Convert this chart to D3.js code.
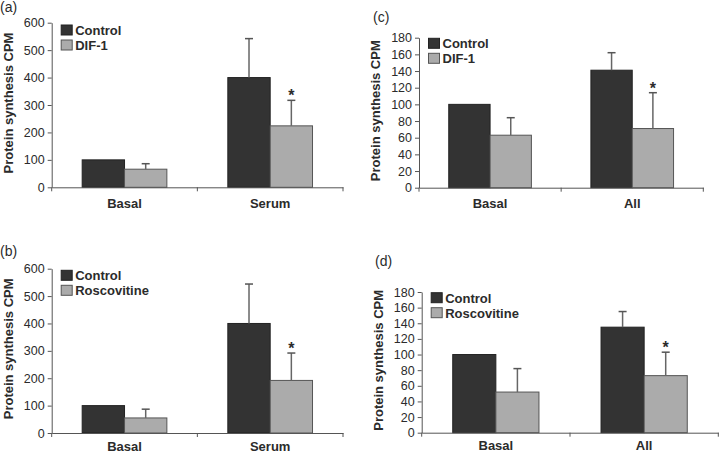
<!DOCTYPE html>
<html>
<head>
<meta charset="utf-8">
<script src="https://cdn.jsdelivr.net/npm/d3@7"></script>
<style>
  body { margin: 0; background: #fff; }
  svg text { font-family: Arial, "Liberation Sans", sans-serif; fill: #2b2b2b; }
  .tick text { font-size: 12.5px; }
  .xax .tick text { font-size: 13px; font-weight: bold; }
</style>
</head>
<body>
<div id="chart"></div>
<script>
// data
var groupsSerum = ["Basal", "Serum"];
var groupsAll = ["Basal", "All"];

var aControl = [100, 400], aControlErr = [0, 142];
var aDif = [66, 224], aDifErr = [20, 93];

var bControl = [100, 400], bControlErr = [0, 144];
var bRosc = [55, 192], bRoscErr = [32, 100];

var cControl = [100, 141], cControlErr = [0, 21];
var cDif = [63, 71], cDifErr = [21, 43];

var dControl = [100, 135], dControlErr = [0, 20];
var dRosc = [52, 73], dRoscErr = [30, 30];

var ticksBig = [0, 100, 200, 300, 400, 500, 600];
var ticksSmall = [0, 20, 40, 60, 80, 100, 120, 140, 160, 180];

var W = 720, H = 454;
var svg = d3.select("#chart").append("svg").attr("width", W).attr("height", H);

// build a panel
function panel(p) {
  var x0 = d3.scaleBand().domain(p.groups).range([p.left, p.right]).paddingInner(0).paddingOuter(0);
  var x1 = d3.scaleBand().domain([0, 1]).range([0, x0.bandwidth()]).paddingInner(0).paddingOuter(0.72);
  var y = d3.scaleLinear().domain([0, d3.max(p.ticks)]).range([p.bottom, p.top]);

  var g = svg.append("g");

  // panel letter
  svg.append("text").attr("x", p.lx).attr("y", p.ly)
    .style("font-size", "14px").text(p.letter);

  var series = [
    {name: "Control", vals: p.s0, err: p.e0, fill: "#333333", stroke: "#222"},
    {name: p.name1, vals: p.s1, err: p.e1, fill: "#ababab", stroke: "#555"}
  ];

  series.forEach(function(s, si) {
    var rows = p.groups.map(function(gname, i) { return {g: gname, v: s.vals[i], e: s.err[i]}; });
    g.selectAll(null).data(rows).enter().append("rect")
      .attr("x", function(d) { return x0(d.g) + x1(si); })
      .attr("y", function(d) { return y(d.v); })
      .attr("width", x1.bandwidth())
      .attr("height", function(d) { return y(0) - y(d.v); })
      .attr("fill", s.fill)
      .attr("stroke", s.stroke)
      .attr("stroke-width", 1);

    // error bars (upper only)
    var eb = rows.filter(function(d) { return d.e > 0; });
    var cx = function(d) { return x0(d.g) + x1(si) + x1.bandwidth() / 2; };
    g.selectAll(null).data(eb).enter().append("line")
      .attr("x1", cx).attr("x2", cx)
      .attr("y1", function(d) { return y(d.v); })
      .attr("y2", function(d) { return y(d.v + d.e); })
      .attr("stroke", "#666").attr("stroke-width", 1.5);
    g.selectAll(null).data(eb).enter().append("line")
      .attr("x1", function(d) { return cx(d) - 4; })
      .attr("x2", function(d) { return cx(d) + 4; })
      .attr("y1", function(d) { return y(d.v + d.e); })
      .attr("y2", function(d) { return y(d.v + d.e); })
      .attr("stroke", "#555").attr("stroke-width", 1.5);

    // significance star on treated, second group
    if (si === 1) {
      var d = rows[1];
      g.append("text")
        .attr("x", cx(d)).attr("y", y(d.v + d.e) + 1)
        .attr("text-anchor", "middle")
        .style("font-size", "16px").style("font-weight", "bold")
        .text("*");
    }
  });

  // y axis
  var yAxis = d3.axisLeft(y).tickValues(p.ticks).tickSize(4).tickPadding(3).tickSizeOuter(0);
  var ya = g.append("g").attr("class", "yax").attr("transform", "translate(" + p.left + ",0)").call(yAxis);
  ya.selectAll("path, line").attr("stroke", "#555");

  // x axis: labels at centers, ticks at band edges
  var xAxis = d3.axisBottom(x0).tickSize(0).tickPadding(p.xpad).tickSizeOuter(0);
  var xa = g.append("g").attr("class", "xax").attr("transform", "translate(0," + p.bottom + ")").call(xAxis);
  xa.select("path").attr("stroke", "#555");
  var edges = p.groups.map(function(gn) { return x0(gn); }).concat([p.right]);
  xa.selectAll(".edge").data(edges).enter().append("line")
    .attr("x1", function(d) { return d; }).attr("x2", function(d) { return d; })
    .attr("y1", 0).attr("y2", 4).attr("stroke", "#555");

  // y title
  g.append("text")
    .attr("transform", "translate(" + (p.left - 39) + "," + ((p.top + p.bottom) / 2 - 2) + ") rotate(-90)")
    .attr("text-anchor", "middle")
    .style("font-size", "13px").style("font-weight", "bold")
    .text("Protein synthesis CPM");

  // legend
  series.forEach(function(s, si) {
    var ly = p.top + p.legTop + si * 15;
    g.append("rect").attr("x", p.left + 9.5).attr("y", ly)
      .attr("width", 11).attr("height", 10)
      .attr("fill", s.fill).attr("stroke", s.stroke);
    g.append("text").attr("x", p.left + 23.5).attr("y", ly + 10)
      .style("font-size", "13px").style("font-weight", "bold")
      .text(s.name);
  });
}

panel({letter: "(a)", lx: 0, ly: 12, groups: groupsSerum, ticks: ticksBig, xpad: 11,
  left: 51.7, right: 343, top: 22.7, bottom: 187.3, legTop: 2.3,
  s0: aControl, e0: aControlErr, s1: aDif, e1: aDifErr, name1: "DIF-1"});
panel({letter: "(b)", lx: 0, ly: 255.5, groups: groupsSerum, ticks: ticksBig, xpad: 8.5,
  left: 51.7, right: 343, top: 268.7, bottom: 433, legTop: 1.6,
  s0: bControl, e0: bControlErr, s1: bRosc, e1: bRoscErr, name1: "Roscovitine"});
panel({letter: "(c)", lx: 373, ly: 22, groups: groupsAll, ticks: ticksSmall, xpad: 11,
  left: 419, right: 703.3, top: 37.7, bottom: 187.7, legTop: 0.6,
  s0: cControl, e0: cControlErr, s1: cDif, e1: cDifErr, name1: "DIF-1"});
panel({letter: "(d)", lx: 375, ly: 265.5, groups: groupsAll, ticks: ticksSmall, xpad: 8.5,
  left: 421.7, right: 718.3, top: 292, bottom: 432.7, legTop: 0.7,
  s0: dControl, e0: dControlErr, s1: dRosc, e1: dRoscErr, name1: "Roscovitine"});
</script>
</body>
</html>
